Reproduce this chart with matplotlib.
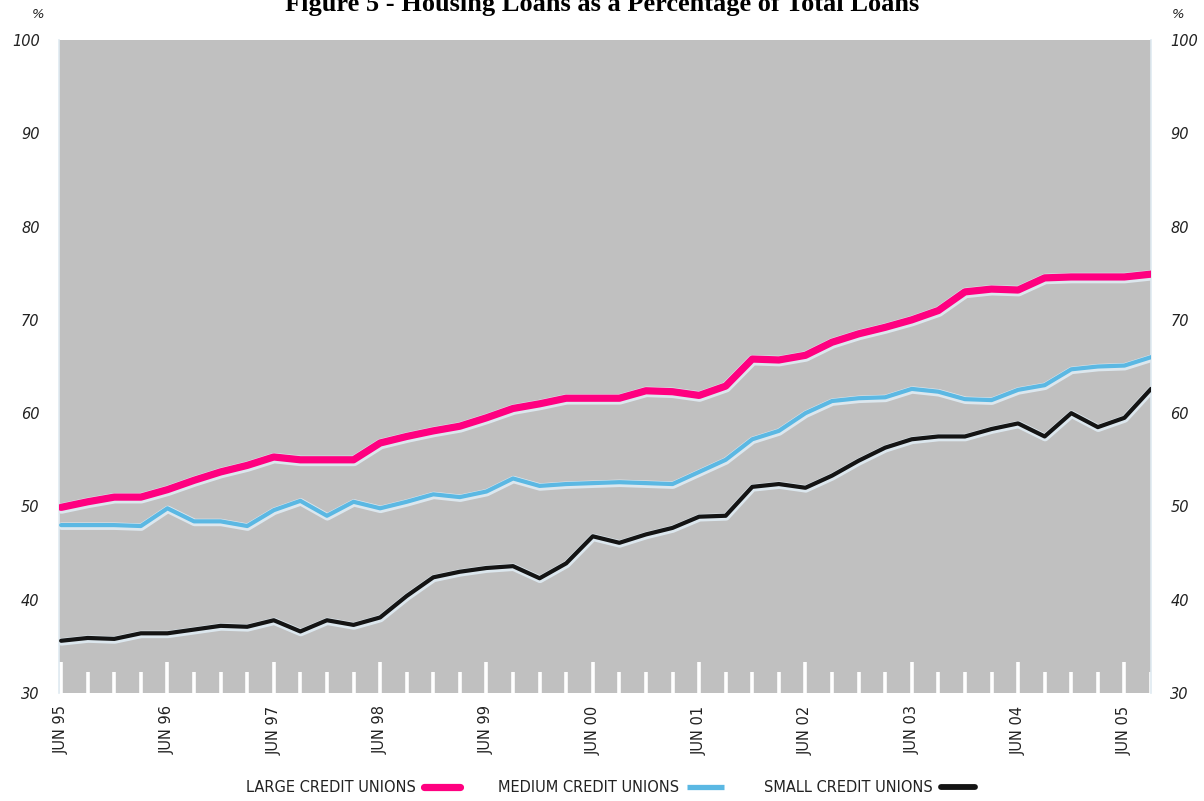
import matplotlib
matplotlib.use("Agg")
import matplotlib.pyplot as plt
import matplotlib.patheffects as pe
from matplotlib.lines import Line2D
import numpy as np

# Quarterly data, Jun 1995 .. Sep 2005 (42 quarters)
large = [49.9, 50.5, 51.0, 51.0, 51.8, 52.8, 53.7, 54.4, 55.3, 55.0,
         55.0, 55.0, 56.8, 57.5, 58.1, 58.6, 59.5, 60.5, 61.0, 61.6,
         61.6, 61.6, 62.4, 62.3, 61.9, 62.9, 65.8, 65.7, 66.2, 67.6,
         68.5, 69.2, 70.0, 71.0, 73.0, 73.3, 73.2, 74.5, 74.6, 74.6,
         74.6, 74.9]
medium = [48.0, 48.0, 48.0, 47.9, 49.8, 48.4, 48.4, 47.9, 49.6, 50.6,
          49.0, 50.5, 49.8, 50.5, 51.3, 51.0, 51.6, 53.0, 52.2, 52.4,
          52.5, 52.6, 52.5, 52.4, 53.7, 55.0, 57.2, 58.1, 60.0, 61.3,
          61.6, 61.7, 62.6, 62.3, 61.5, 61.4, 62.5, 63.0, 64.7, 65.0,
          65.1, 66.0]
small = [35.6, 35.9, 35.8, 36.4, 36.4, 36.8, 37.2, 37.1, 37.8, 36.6,
         37.8, 37.3, 38.1, 40.4, 42.4, 43.0, 43.4, 43.6, 42.3, 43.9,
         46.8, 46.1, 47.0, 47.7, 48.9, 49.0, 52.1, 52.4, 52.0, 53.3,
         54.9, 56.3, 57.2, 57.5, 57.5, 58.3, 58.9, 57.5, 60.0, 58.5,
         59.5, 62.6]
year_labels = ['JUN 95', 'JUN 96', 'JUN 97', 'JUN 98', 'JUN 99', 'JUN 00',
               'JUN 01', 'JUN 02', 'JUN 03', 'JUN 04', 'JUN 05']
y_ticks = [30, 40, 50, 60, 70, 80, 90, 100]
series_names = ['LARGE CREDIT UNIONS', 'MEDIUM CREDIT UNIONS', 'SMALL CREDIT UNIONS']

W, H = 1204, 801
fig = plt.figure(figsize=(W / 100, H / 100), dpi=100)
fig.patch.set_facecolor('white')

left, right, top, bottom = 59, 1151, 40, 693
ax = fig.add_axes([left / W, 1 - bottom / H, (right - left) / W, (bottom - top) / H])
ax.set_facecolor('#c0c0c0')

x = np.arange(len(large))
halo = '#dce7ee'
colors = ['#ff0080', '#5bb8e3', '#141414']
widths = [5.2, 3.0, 3.0]
for data, c, lw in [(small, colors[2], widths[2]), (medium, colors[1], widths[1]),
                    (large, colors[0], widths[0])]:
    ax.plot(x, data, color=c, lw=lw, solid_capstyle='round', solid_joinstyle='round',
            path_effects=[pe.Stroke(linewidth=lw + 2.4, foreground=halo, offset=(0.3, -0.8)),
                          pe.Normal()],
            zorder=3)

ax.set_xlim(-0.08, 41.0)
ax.set_ylim(30, 100)

for s in ax.spines.values():
    s.set_visible(False)
for side in ['left', 'right']:
    ax.spines[side].set_visible(True)
    ax.spines[side].set_color('#dfeaf1')
    ax.spines[side].set_linewidth(1.2)

major = np.arange(0, len(large), 4)
minor = np.arange(0, len(large), 1)
ax.set_xticks(major)
ax.set_xticks(minor, minor=True)
ax.set_xticklabels(year_labels, rotation=90, fontsize=10.5,
                   family=['Liberation Sans Narrow', 'DejaVu Sans'], color='#222222')
ax.tick_params(axis='x', which='major', direction='in', length=22, width=2.6,
               color='white', pad=9)
ax.tick_params(axis='x', which='minor', direction='in', length=15, width=2.6,
               color='white')
for lab in ax.get_xticklabels():
    lab.set_va('top')

ax.set_yticks(y_ticks)
ax.tick_params(axis='y', which='both', length=0, pad=14, labelsize=10.5,
               labelleft=True, labelright=True)
for lab in ax.get_yticklabels():
    lab.set_fontstyle('italic')
    lab.set_color('#222222')

# title (partly clipped at top as in reference)
fig.text(0.5, 1 - 11 / H, 'Figure 5 - Housing Loans as a Percentage of Total Loans',
         ha='center', va='baseline', fontsize=19, fontweight='bold',
         family='Liberation Serif')

fig.text(38 / W, 1 - 14 / H, '%', ha='center', va='center', fontsize=9.5,
         style='italic', color='#222222')
fig.text(1178 / W, 1 - 14 / H, '%', ha='center', va='center', fontsize=9.5,
         style='italic', color='#222222')

# legend (manual placement)
leg_y = 1 - 787 / H
leg_items = [(246, 424, 460, colors[0], 5.2, 'round'),
             (498, 687, 724, colors[1], 3.8, 'butt'),
             (764, 941, 975, colors[2], 4.2, 'round')]
for name, (tx, l0, l1, c, lw, cap) in zip(series_names, leg_items):
    fig.text(tx / W, leg_y, name, ha='left', va='center', fontsize=10.5,
             family=['Liberation Sans Narrow', 'DejaVu Sans'], color='#222222')
    fig.add_artist(Line2D([l0 / W, l1 / W], [leg_y, leg_y], color=c, lw=lw,
                          solid_capstyle=cap, transform=fig.transFigure))

fig.savefig('out.png', dpi=100)
